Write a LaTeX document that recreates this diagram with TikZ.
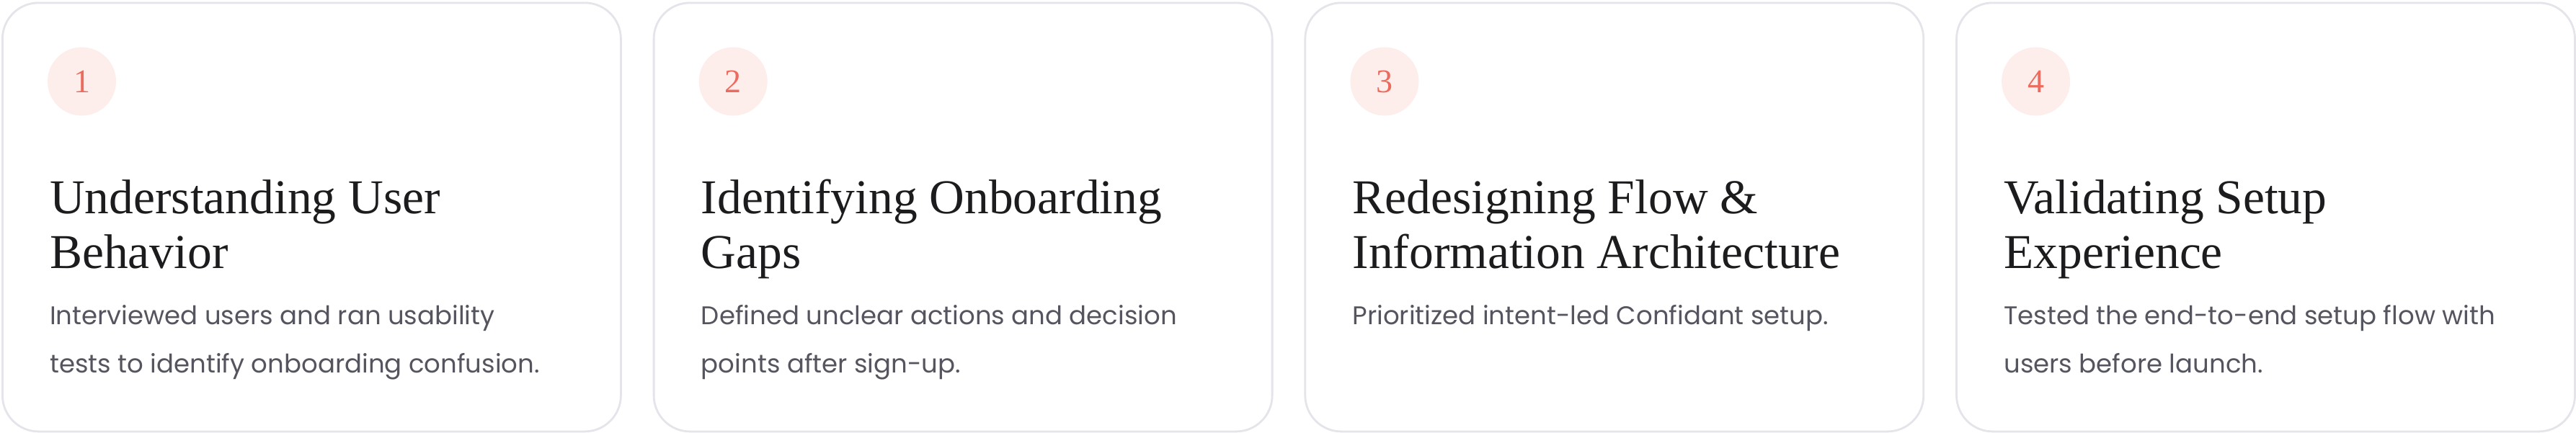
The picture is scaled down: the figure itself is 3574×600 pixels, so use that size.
\documentclass[tikz,border=0pt]{standalone}
\usepackage{fontspec}
\setmainfont{Liberation Serif}
\newfontfamily\descfont{Poppins}
\definecolor{cardborder}{HTML}{E4E4EA}
\definecolor{numfill}{HTML}{FDEEEC}
\definecolor{numtext}{HTML}{EC6A5E}
\definecolor{titletext}{HTML}{1C1C1E}
\definecolor{desctext}{HTML}{55555F}
\tikzset{
  card/.style={draw=cardborder, line width=2.8pt, rounded corners=50pt, fill=white,
    minimum width=858pt, minimum height=595pt, anchor=north west, inner sep=0pt},
  numcircle/.style={circle, fill=numfill, minimum size=95pt, inner sep=0pt,
    text=numtext, font=\fontsize{46}{46}\selectfont},
  titleline/.style={anchor=base west, inner sep=0pt, text=titletext,
    font=\fontsize{67.5}{67.5}\selectfont},
  descline/.style={anchor=base west, inner sep=0pt, text=desctext,
    font=\descfont\fontsize{35.5}{35.5}\selectfont},
}
\begin{document}
\begin{tikzpicture}[x=1pt,y=-1pt]
\useasboundingbox (0,0) rectangle (3574,600);
% card 1
\node[card] (card1) at (2,2.5) {};
\node[numcircle] (num1) at (113.5,113) {1};
\node[titleline] (title1a) at (69,296) {Understanding User};
\node[titleline] (title1b) at (69,372) {Behavior};
\node[descline] (desc1a) at (69,450) {Interviewed users and ran usability};
\node[descline] (desc1b) at (69,517) {tests to identify onboarding confusion.};
% card 2
\node[card] (card2) at (905.7,2.5) {};
\node[numcircle] (num2) at (1017.2,113) {2};
\node[titleline] (title2a) at (972.7,296) {Identifying Onboarding};
\node[titleline] (title2b) at (972.7,372) {Gaps};
\node[descline] (desc2a) at (972.7,450) {Defined unclear actions and decision};
\node[descline] (desc2b) at (972.7,517) {points after sign-up.};
% card 3
\node[card] (card3) at (1809.4,2.5) {};
\node[numcircle] (num3) at (1920.9,113) {3};
\node[titleline] (title3a) at (1876.4,296) {Redesigning Flow \&};
\node[titleline] (title3b) at (1876.4,372) {Information Architecture};
\node[descline] (desc3a) at (1876.4,450) {Prioritized intent-led Confidant setup.};
% card 4
\node[card] (card4) at (2713.1,2.5) {};
\node[numcircle] (num4) at (2824.6,113) {4};
\node[titleline] (title4a) at (2780.1,296) {Validating Setup};
\node[titleline] (title4b) at (2780.1,372) {Experience};
\node[descline] (desc4a) at (2780.1,450) {Tested the end-to-end setup flow with};
\node[descline] (desc4b) at (2780.1,517) {users before launch.};
\end{tikzpicture}
\end{document}
